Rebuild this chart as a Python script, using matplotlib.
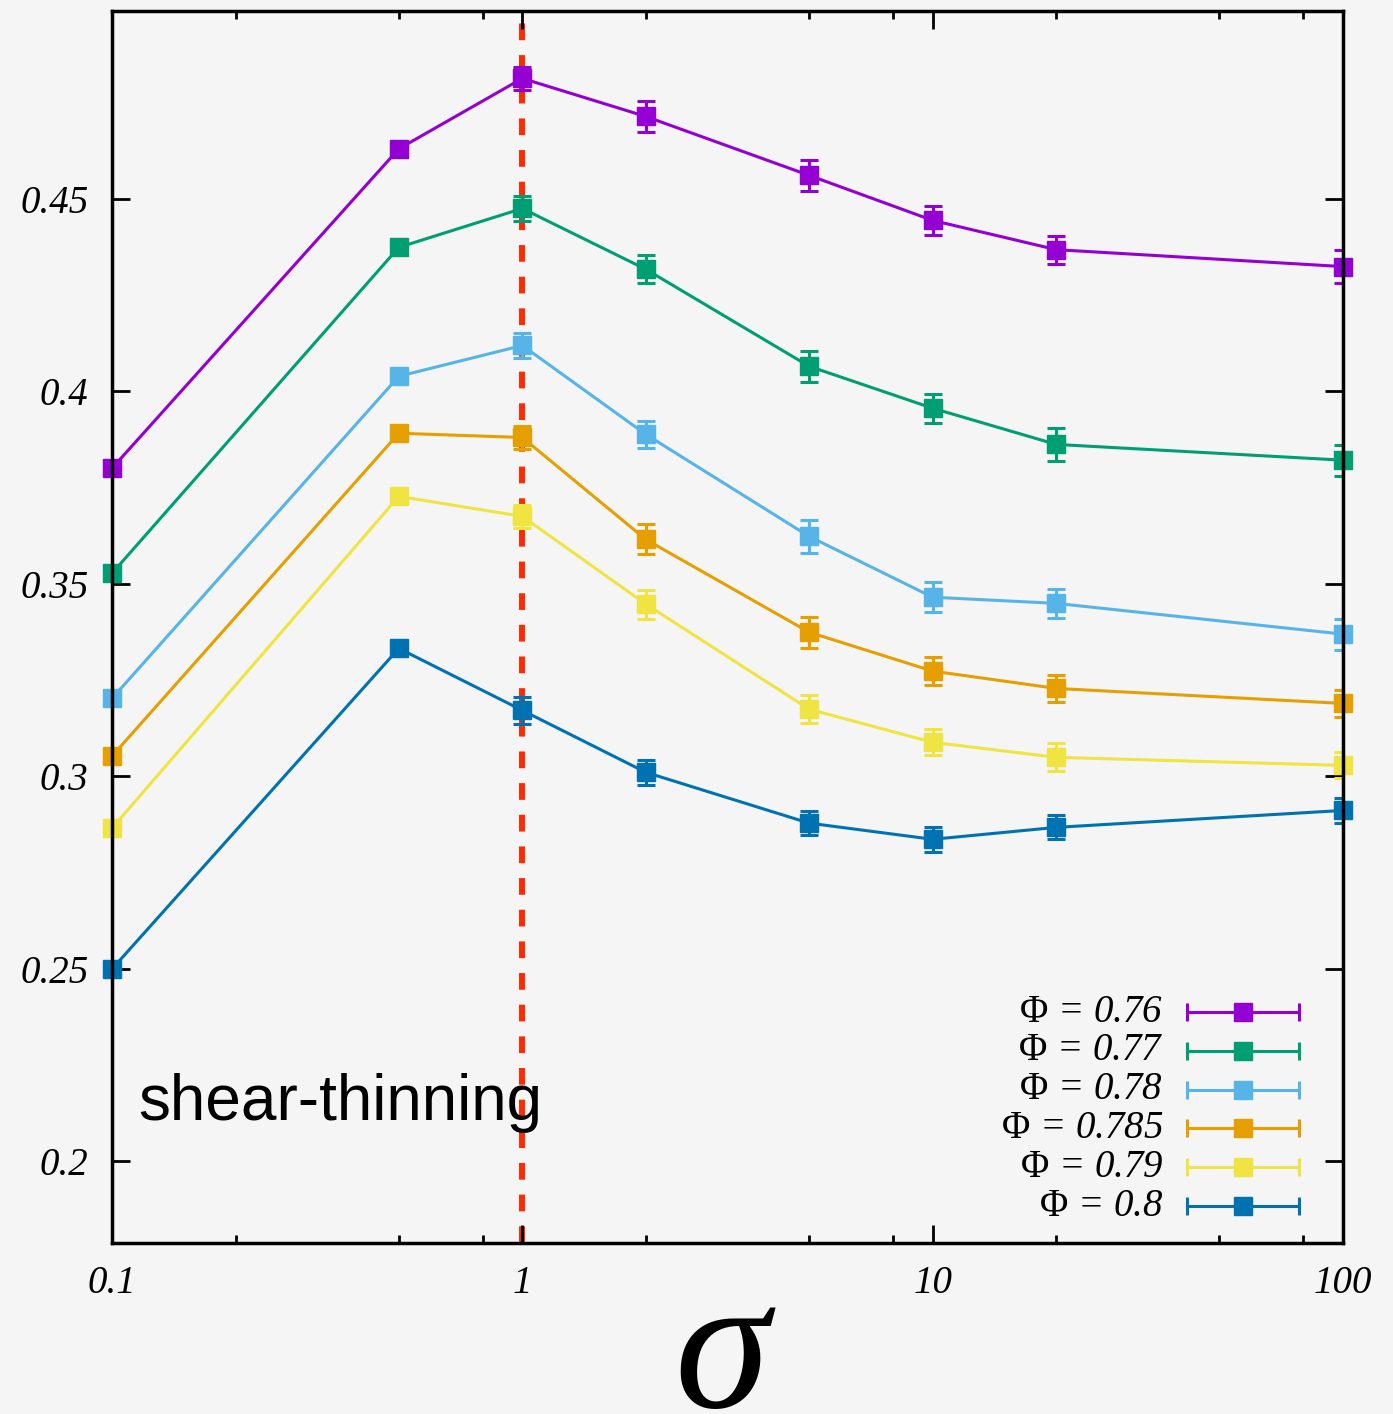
import matplotlib
matplotlib.use("Agg")
import matplotlib.pyplot as plt
from matplotlib.ticker import FixedLocator, FixedFormatter, NullFormatter

plt.rcParams['font.family'] = ['Liberation Serif', 'DejaVu Serif']
plt.rcParams['mathtext.fontset'] = 'custom'
plt.rcParams['mathtext.rm'] = 'Liberation Serif'
plt.rcParams['mathtext.it'] = 'Liberation Serif:italic'
plt.rcParams['mathtext.bf'] = 'Liberation Serif:bold'

# data
sigma = [0.1, 0.5, 1, 2, 5, 10, 20, 100]

labels = ['0.76', '0.77', '0.78', '0.785', '0.79', '0.8']
colors = ['#9400d3', '#009e73', '#56b4e9', '#e69f00', '#f0e442', '#0072b2']

y_076 = [0.380, 0.463, 0.4813, 0.4714, 0.4561, 0.4444, 0.4368, 0.4324]
y_077 = [0.3527, 0.4374, 0.4475, 0.4317, 0.4065, 0.3956, 0.3862, 0.3821]
y_078 = [0.3202, 0.4039, 0.4119, 0.3888, 0.3623, 0.3465, 0.3449, 0.3369]
y_0785 = [0.3052, 0.3891, 0.3880, 0.3615, 0.3374, 0.3273, 0.3228, 0.3189]
y_079 = [0.2865, 0.3727, 0.3675, 0.3447, 0.3174, 0.3088, 0.3049, 0.3028]
y_080 = [0.2499, 0.3332, 0.3171, 0.3010, 0.2878, 0.2836, 0.2867, 0.2911]

e_076 = [0.0, 0.0015, 0.003, 0.004, 0.004, 0.0038, 0.0036, 0.0042]
e_077 = [0.0, 0.0015, 0.0032, 0.0036, 0.004, 0.0038, 0.0042, 0.004]
e_078 = [0.0, 0.0015, 0.0032, 0.0036, 0.0042, 0.0039, 0.0038, 0.004]
e_0785 = [0.0, 0.0015, 0.003, 0.0039, 0.004, 0.0037, 0.0036, 0.0036]
e_079 = [0.0, 0.0015, 0.003, 0.0038, 0.0036, 0.0034, 0.0036, 0.0034]
e_080 = [0.0, 0.0015, 0.0035, 0.0033, 0.0031, 0.0033, 0.0031, 0.0032]

series_y = [y_076, y_077, y_078, y_0785, y_079, y_080]
series_e = [e_076, e_077, e_078, e_0785, e_079, e_080]

xticks = [0.1, 1, 10, 100]
xtick_labels = ['0.1', '1', '10', '100']
xminor = [0.2, 0.5, 0.8, 2, 5, 8, 20, 50, 80]
yticks = [0.2, 0.25, 0.3, 0.35, 0.4, 0.45]
ytick_labels = ['0.2', '0.25', '0.3', '0.35', '0.4', '0.45']

bg = '#f5f5f5'
fig = plt.figure(figsize=(13.93, 14.14), dpi=100, facecolor=bg)
ax = fig.add_axes([0.0804, 0.1209, 0.8837, 0.8713], facecolor=bg)

ax.set_xscale('log')
ax.set_xlim(0.1, 100)
ax.set_ylim(0.1787, 0.4988)

# red dashed line at sigma = 1
ax.axvline(1, color='#ff2a00', lw=4.3, dashes=(2.8, 2.5), zorder=1.5)

for ys, es, c in zip(series_y, series_e, colors):
    line, caps, bars = ax.errorbar(sigma, ys, yerr=es, fmt='-s', color=c, lw=2.2, ms=13,
                                   elinewidth=2.2, capsize=6.5, capthick=2.2, zorder=2)
    line.set_clip_on(False)

# legend drawn gnuplot style
ly0, dy = 0.1875, 0.0315
for i, (lab, c) in enumerate(zip(labels, colors)):
    ly = ly0 - i * dy
    ax.text(0.8538, ly, r'$\Phi$ = ' + lab, transform=ax.transAxes, style='italic',
            ha='right', va='center', fontsize=28, zorder=3)
    ax.plot([0.8733, 0.9643], [ly, ly], color=c, lw=2.2, transform=ax.transAxes)
    ax.plot([0.8733, 0.9643], [ly, ly], ls='none', marker='|', ms=13, mew=2.2,
            color=c, transform=ax.transAxes)
    ax.plot([0.9188], [ly], ls='none', marker='s', ms=13, color=c, transform=ax.transAxes)

ax.text(0.021, 0.1, 'shear-thinning', transform=ax.transAxes, fontsize=46,
        family='Liberation Sans', ha='left', va='baseline', zorder=3)

ax.xaxis.set_major_locator(FixedLocator(xticks))
ax.xaxis.set_major_formatter(FixedFormatter(xtick_labels))
ax.xaxis.set_minor_locator(FixedLocator(xminor))
ax.xaxis.set_minor_formatter(NullFormatter())
ax.yaxis.set_major_locator(FixedLocator(yticks))
ax.yaxis.set_major_formatter(FixedFormatter(ytick_labels))

ax.tick_params(which='both', direction='in', top=True, right=True, width=2)
ax.tick_params(which='major', length=13)
ax.tick_params(which='minor', length=6)
ax.tick_params(axis='x', which='major', pad=16)
ax.tick_params(axis='y', which='major', pad=17)
for lab in ax.get_xticklabels() + ax.get_yticklabels():
    lab.set_fontsize(28)
    lab.set_fontstyle('italic')

for sp in ax.spines.values():
    sp.set_linewidth(2.5)

ax.set_xlabel(r'$\sigma$', fontsize=138, va='bottom')
ax.xaxis.set_label_coords(0.4985, -0.166)

fig.savefig('out.png', dpi=100, facecolor=bg)
